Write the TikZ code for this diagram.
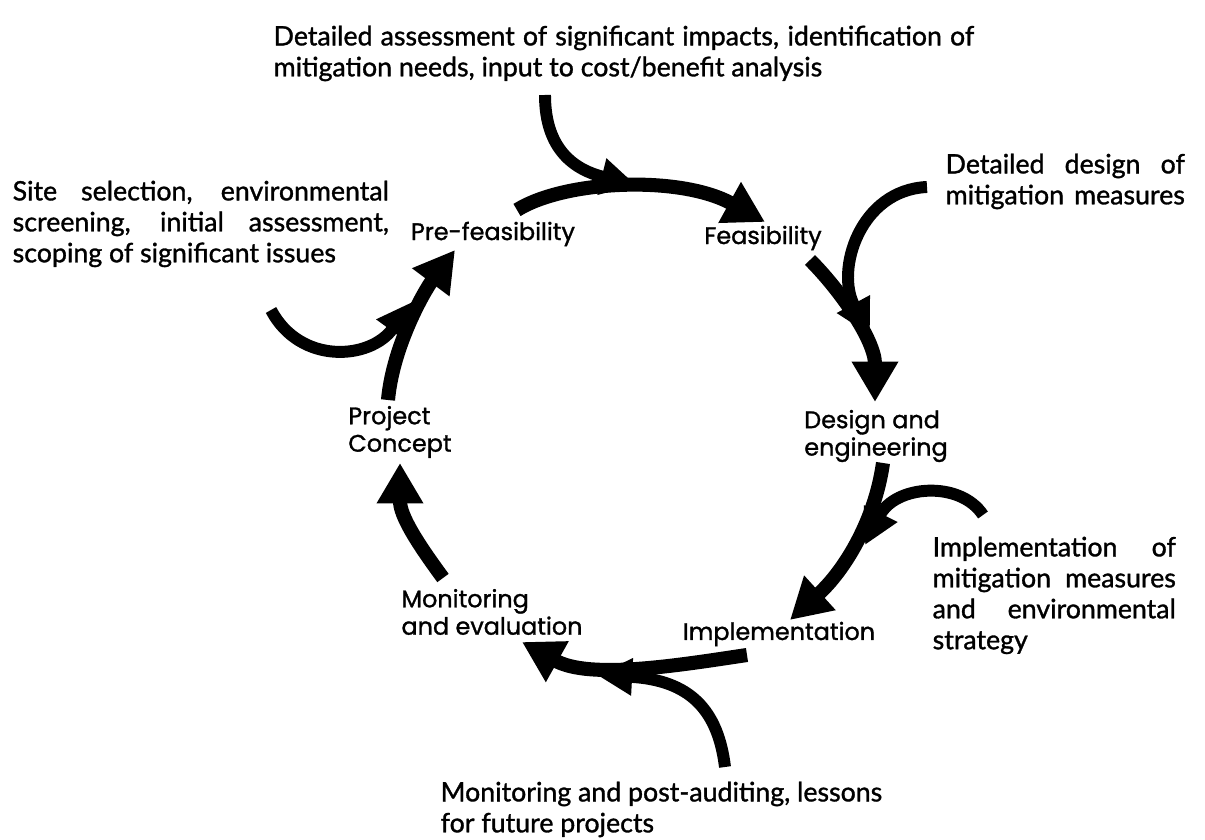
\documentclass[tikz,border=0pt]{standalone}
\usepackage{fontspec}
\usetikzlibrary{arrows.meta,calc}
\newfontfamily\stagefont{Poppins}[FakeBold=1.2]
\newfontfamily\notefont{Lato}[FakeBold=1.2]
\tikzset{
  stage/.style={font={\stagefont\fontsize{6.8}{7.8}\selectfont}, align=left, inner sep=0pt},
  note/.style={font={\notefont\fontsize{7.6}{8.8}\selectfont}, align=left, inner sep=0pt, anchor=north west},
  flow/.style={line width=4pt, -{Triangle[length=11.5pt,width=12.5pt]}},
  feed/.style={line width=3.4pt, -{Triangle[length=10pt,width=10pt]}}
}
\begin{document}
\begin{tikzpicture}[x=0.01cm,y=-0.01cm]
    \useasboundingbox (0,0) rectangle (1205,840);
    \node[stage] (pre) at (493,234) {Pre-feasibility};
    \node[stage] (feas) at (763,238) {Feasibility};
    \node[stage] (design) at (876,436) {Design and\\engineering};
    \node[stage] (impl) at (779,634) {Implementation};
    \node[stage] (monit) at (492,612) {Monitoring\\and evaluation};
    \node[stage] (concept) at (400,432) {Project\\Concept};
    \node[note] (assess) at (273,25) {\makebox[7.0cm][s]{Detailed assessment of significant impacts, identification of}\\mitigation needs, input to cost/benefit analysis};
    \node[note] (siting) at (12,180) {\makebox[3.76cm][s]{Site selection, environmental}\\\makebox[3.76cm][s]{screening, initial assessment,}\\scoping of significant issues};
    \node[note] (mitdesign) at (945,153) {\makebox[2.39cm][s]{Detailed design of}\\\makebox[2.39cm][s]{mitigation measures}};
    \node[note] (mitimpl) at (932,536) {\makebox[2.43cm][s]{Implementation of}\\\makebox[2.43cm][s]{mitigation measures}\\\makebox[2.43cm][s]{and environmental}\\strategy};
    \node[note] (audit) at (440,781) {Monitoring and post-auditing, lessons\\for future projects};
    \coordinate (m1) at (636,185);
    \coordinate (m2) at (870,335);
    \coordinate (m3) at (865,545);
    \coordinate (m4) at (597,675);
    \coordinate (m5) at (412,302);
    \draw[feed] ($(assess.north west)+(272,70)$) .. controls (545,150) and (575,170) .. (m1);
    \draw[feed] ($(mitdesign.north west)+(-18,34)$) .. controls (860,190) and (835,270) .. (m2);
    \draw[feed] ($(mitimpl.north west)+(51,-21)$) .. controls (960,480) and (895,485) .. (m3);
    \draw[feed] ($(audit.north west)+(285,-14)$) .. controls (718,710) and (690,680) .. (m4);
    \draw[feed] ($(siting.north west)+(259,130)$) .. controls (300,365) and (370,360) .. (m5);
    \draw[flow] ($(pre)+(24,-24)$) .. controls (565,180) and (680,175) .. ($(feas)+(2,-16)$);
    \draw[flow] ($(feas)+(47,22)$) .. controls (840,290) and (875,340) .. ($(design)+(-1,-34)$);
    \draw[flow] ($(design)+(7,27)$) .. controls (875,520) and (845,570) .. ($(impl)+(11,-14)$);
    \draw[flow] ($(impl)+(-32,21)$) .. controls (680,665) and (590,680) .. ($(monit)+(30,30)$);
    \draw[flow] ($(monit)+(-49,-34)$) .. controls (415,540) and (400,515) .. ($(concept)+(0,31)$);
    \draw[flow] ($(concept)+(-12,-32)$) .. controls (393,345) and (425,290) .. ($(pre)+(-38,16)$);
\end{tikzpicture}
\end{document}
